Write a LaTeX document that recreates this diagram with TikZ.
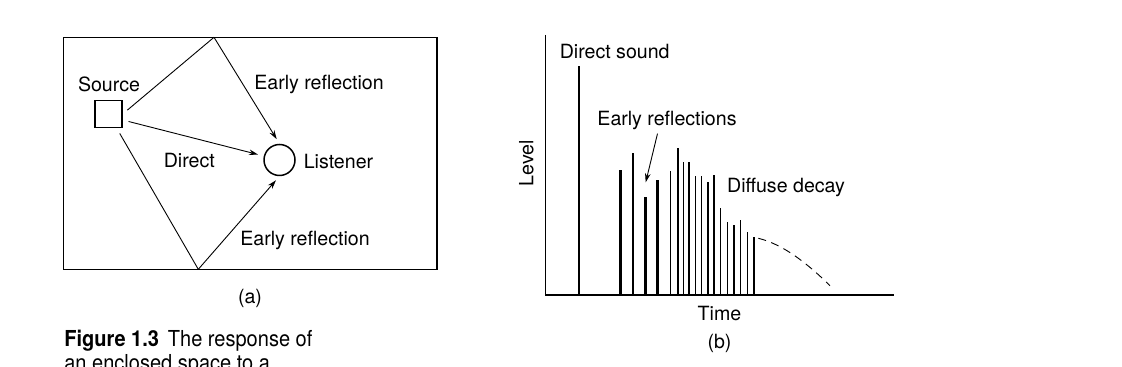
\documentclass[tikz,border=0pt]{standalone}
\usepackage{fontspec}
\setmainfont{TeX Gyre Heros}
\usetikzlibrary{arrows.meta,positioning}
\tikzset{
  wall/.style={line width=0.75pt},
  ray/.style={line width=0.45pt},
  arr/.style={ray,-{Stealth[length=4.5pt,width=2.8pt]}},
  lbl/.style={inner sep=0pt,anchor=base,font=\fontsize{9.8}{12}\selectfont},
  caption/.style={inner sep=0pt,anchor=base west,xscale=0.91,font=\fontsize{11}{13}\selectfont},
  bigbar/.style={line width=1.25pt},
  smallbar/.style={line width=0.6pt}
}

\begin{document}
\begin{tikzpicture}[x=0.5pt,y=-0.5pt]
	\useasboundingbox (0,0) rectangle (1122,367);
	% (a) the room
	\draw[wall] (63.3,37.3) rectangle (437,269.3);
	\coordinate (top) at (214,37.3);
	\coordinate (bot) at (198.3,269.3);
	\node[draw,wall,minimum size=13.5pt,inner sep=0pt] (src) at (108.5,114) {};
	\node[draw,wall,circle,minimum size=15.5pt,inner sep=0pt] (lis) at (279.5,160) {};
	\node[lbl] (srclbl) at (109,91.7) {Source};
	\node[lbl] (lislbl) at (338.5,168.3) {Listener};
	\node[lbl] (dirlbl) at (189.3,167.3) {Direct};
	\node[lbl] (toplbl) at (319,89.3) {Early reflection};
	\node[lbl] (botlbl) at (305,246) {Early reflection};
	\node[lbl] (alabel) at (250,303.3) {(a)};
	\draw[ray,shorten <=3pt] (src.east) -- (top);
	\draw[arr,shorten >=2.7pt] (top) -- (lis.north);
	\draw[arr,shorten <=3pt,shorten >=3pt] ([yshift=-3pt]src.east) -- (lis);
	\draw[ray,shorten <=3pt] (src) -- (bot);
	\draw[arr,shorten >=2.7pt] (bot) -- (lis.south);
	% caption
	\node[caption] (cap1) at (64,347) {\textbf{Figure 1.3}\, The response of};
	\node[caption] (cap2) at (64,371) {an enclosed space to a};
	% (b) the response
	\draw[wall] (545.7,35) -- (545.7,295) -- (894.3,295);
	\draw[bigbar] (579,295) -- (579,65.7);
	\foreach \x/\h in {620.7/170,633/153.3,645.3/197.3,657.7/180}
		\draw[bigbar] (\x,295) -- (\x,\h);
	\foreach \x/\h in {670.3/171,678/148.3,683.5/162.3,689/161.7,695.7/176.5,701.7/176.5,
		708/182.3,714/175,720.7/208.3,727.7/221.7,734/225,740.7/220,747.3/232,754/237.3}
		\draw[smallbar] (\x,295) -- (\x,\h);
	\draw[ray,dash pattern=on 4pt off 2.8pt] (758.3,238.3) .. controls (782,244) and (806,262) .. (830,285.7);
	\node[lbl] (dslbl) at (614.7,58.3) {Direct sound};
	\node[lbl] (erlbl) at (667,126) {Early reflections};
	\node[lbl] (ddlbl) at (786,192.7) {Diffuse decay};
	\node[lbl] (tlbl) at (719.5,320.7) {Time};
	\node[lbl] (blabel) at (719.5,348.3) {(b)};
	\node[lbl,rotate=90] (lvlbl) at (533.3,163) {Level};
	\coordinate (ertip) at (645.7,182.3);
	\draw[arr,shorten <=1.5pt] ([xshift=-4.4pt]erlbl.south) -- (ertip);
\end{tikzpicture}
\end{document}
